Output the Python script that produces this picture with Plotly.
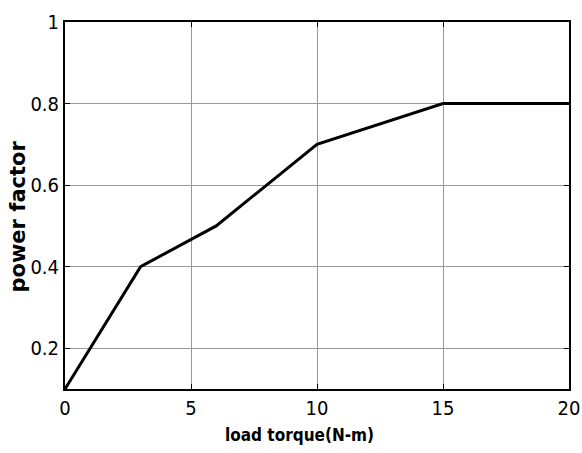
import plotly.graph_objects as go

torque = [0, 3, 6, 10, 15, 20]
power_factor = [0.1, 0.4, 0.5, 0.7, 0.8, 0.8]
x_ticks = [0, 5, 10, 15, 20]
y_ticks = [0.2, 0.4, 0.6, 0.8, 1]
y_tick_labels = ["0.2", "0.4", "0.6", "0.8", "1"]

fig = go.Figure()
fig.add_trace(go.Scatter(x=torque, y=power_factor, mode="lines",
                         line=dict(color="black", width=3), showlegend=False))

narrow = "DejaVu Sans Condensed, Liberation Sans Narrow, Arial Narrow, sans-serif"

fig.update_layout(
    width=582, height=453,
    margin=dict(l=65, r=13, t=22, b=64, autoexpand=False),
    paper_bgcolor="white", plot_bgcolor="white",
    xaxis=dict(range=[0, 20], tickvals=x_ticks, showgrid=True, gridcolor="#999999", gridwidth=1,
               showline=True, linecolor="black", linewidth=2, mirror="ticks",
               ticks="inside", ticklen=5, tickcolor="black", zeroline=False,
               ticklabeloverflow="allow", automargin=False,
               tickfont=dict(family=narrow, size=20, color="black")),
    yaxis=dict(range=[0.1, 1], tickvals=y_ticks, ticktext=y_tick_labels,
               showgrid=True, gridcolor="#999999", gridwidth=1,
               showline=True, linecolor="black", linewidth=2, mirror="ticks",
               ticks="inside", ticklen=5, tickcolor="black", zeroline=False,
               automargin=False,
               tickfont=dict(family=narrow, size=20, color="black")),
    annotations=[
        dict(text="<b>load torque(N-m)</b>", xref="paper", yref="paper", x=0.466, y=0,
             yshift=-46, xanchor="center", yanchor="middle", showarrow=False,
             font=dict(family=narrow, size=17, color="black")),
        dict(text="<b>power factor</b>", xref="paper", yref="paper", x=0, xshift=-47, y=0.47,
             xanchor="center", yanchor="middle", showarrow=False, textangle=-90,
             font=dict(family="DejaVu Sans, Verdana, sans-serif", size=21, color="black")),
    ],
)

fig.write_html("out.html", config={"displayModeBar": False},
               post_script="document.body.style.margin='0';")
